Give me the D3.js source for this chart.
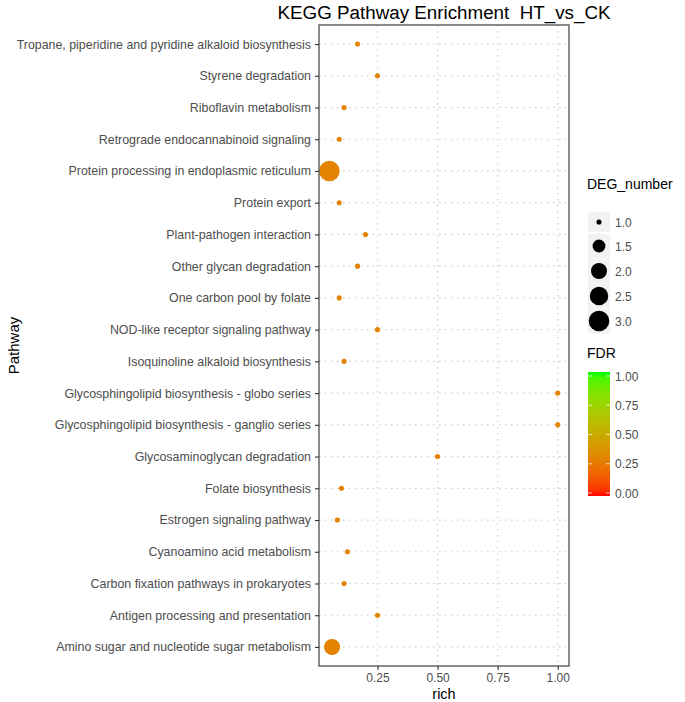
<!DOCTYPE html>
<html><head><meta charset="utf-8">
<script src="https://cdn.jsdelivr.net/npm/d3@7"></script>
<style>body{margin:0;background:#fff}svg{display:block;font-family:"Liberation Sans",Arial,sans-serif}</style>
</head><body><svg id="c" width="685" height="702"></svg>
<script>
const pathways = [
"Tropane, piperidine and pyridine alkaloid biosynthesis",
"Styrene degradation",
"Riboflavin metabolism",
"Retrograde endocannabinoid signaling",
"Protein processing in endoplasmic reticulum",
"Protein export",
"Plant-pathogen interaction",
"Other glycan degradation",
"One carbon pool by folate",
"NOD-like receptor signaling pathway",
"Isoquinoline alkaloid biosynthesis",
"Glycosphingolipid biosynthesis - globo series",
"Glycosphingolipid biosynthesis - ganglio series",
"Glycosaminoglycan degradation",
"Folate biosynthesis",
"Estrogen signaling pathway",
"Cyanoamino acid metabolism",
"Carbon fixation pathways in prokaryotes",
"Antigen processing and presentation",
"Amino sugar and nucleotide sugar metabolism"];
const rich = [0.167,0.25,0.111,0.0909,0.05,0.0909,0.2,0.167,0.0909,0.25,0.111,1.0,1.0,0.5,0.1,0.0833,0.125,0.111,0.25,0.061];
const degNumber = [1,1,1,1,3,1,1,1,1,1,1,1,1,1,1,1,1,1,1,2];
const fdr = [0.3,0.3,0.3,0.3,0.3,0.3,0.3,0.3,0.3,0.3,0.3,0.3,0.3,0.3,0.3,0.3,0.3,0.3,0.3,0.3];
const xTicks = [0.25,0.5,0.75,1.0];
const sizeBreaks = [1.0,1.5,2.0,2.5,3.0];
const fdrBreaks = [0,0.25,0.5,0.75,1.0];
const titleText = "KEGG Pathway Enrichment  HT_vs_CK";

const svg = d3.select("#c");
const P = {l:319, r:569, t:25, b:666};
const x = d3.scaleLinear().domain([0.0067,1.047]).range([P.l,P.r]);
const y = d3.scalePoint().domain(pathways).range([P.t,P.b]).padding(0.6);
const rad = v => { const s = 1 + 5*Math.sqrt((v-1)/2); return 1.55*s + 1; };
const col = d3.scaleLinear().domain([0,1]).range(["#FF0000","#00FF00"]).interpolate(d3.interpolateLab);

// grid
const g = svg.append("g");
g.selectAll(".hg").data(pathways).join("line")
  .attr("x1",P.l).attr("x2",P.r).attr("y1",d=>y(d)).attr("y2",d=>y(d))
  .attr("stroke","#cfcfcf").attr("stroke-width",1.2).attr("stroke-dasharray","1.5,4.5");
g.selectAll(".vg").data(xTicks).join("line")
  .attr("x1",d=>x(d)).attr("x2",d=>x(d)).attr("y1",P.t).attr("y2",P.b)
  .attr("stroke","#cfcfcf").attr("stroke-width",1.2).attr("stroke-dasharray","1.5,4.5");

// points
const data = pathways.map((p,i)=>({p, r:rich[i], n:degNumber[i], f:fdr[i]}));
svg.append("g").selectAll("circle").data(data).join("circle")
  .attr("cx",d=>x(d.r)).attr("cy",d=>y(d.p)).attr("r",d=>rad(d.n))
  .attr("fill",d=>col(d.f));

// border
svg.append("rect").attr("x",P.l).attr("y",P.t).attr("width",P.r-P.l).attr("height",P.b-P.t)
  .attr("fill","none").attr("stroke","#4d4d4d").attr("stroke-width",1.3);

// axes
const yAx = svg.append("g").attr("transform",`translate(${P.l},0)`)
  .call(d3.axisLeft(y).tickSize(4).tickPadding(4));
yAx.select(".domain").remove();
yAx.selectAll("line").attr("stroke","#333").attr("stroke-width",1.1);
yAx.selectAll("text").attr("fill","#4d4d4d").style("font-size","12.4px").style("font-family","Liberation Sans, Arial, sans-serif");

const xAx = svg.append("g").attr("transform",`translate(0,${P.b})`)
  .call(d3.axisBottom(x).tickValues(xTicks).tickFormat(d3.format(".2f")).tickSize(4).tickPadding(3));
xAx.select(".domain").remove();
xAx.selectAll("line").attr("stroke","#333").attr("stroke-width",1.1);
xAx.selectAll("text").attr("fill","#4d4d4d").style("font-size","12px").style("font-family","Liberation Sans, Arial, sans-serif");

// titles
svg.append("text").attr("x",(P.l+P.r)/2).attr("y",19).attr("text-anchor","middle")
  .style("font-size","18.8px").style("white-space","pre").attr("fill","#000").text(titleText);
svg.append("text").attr("x",(P.l+P.r)/2).attr("y",699).attr("text-anchor","middle")
  .style("font-size","14.5px").text("rich");
svg.append("text").attr("transform",`translate(19,${(P.t+P.b)/2}) rotate(-90)`).attr("text-anchor","middle")
  .style("font-size","15px").text("Pathway");

// size legend
const L = svg.append("g");
L.append("text").attr("x",587).attr("y",189).style("font-size","14px").text("DEG_number");
const keyC = [222,246,271,296,321];
const keyH = [20,24,25,25,25];
sizeBreaks.forEach((v,i)=>{
  L.append("rect").attr("x",588).attr("y",keyC[i]-keyH[i]/2).attr("width",22).attr("height",keyH[i]).attr("fill","#f2f2f2");
  L.append("circle").attr("cx",599).attr("cy",keyC[i]).attr("r",rad(v)).attr("fill","#000");
  L.append("text").attr("x",615).attr("y",keyC[i]+4.5).style("font-size","12px").attr("fill","#4d4d4d").text(d3.format(".1f")(v));
});

// colour legend
L.append("text").attr("x",587).attr("y",358).style("font-size","14px").text("FDR");
const cy = d3.scaleLinear().domain([0,1]).range([493,376]);
const defs = svg.append("defs");
const lg = defs.append("linearGradient").attr("id","fg").attr("x1",0).attr("x2",0).attr("y1",1).attr("y2",0);
d3.range(0,1.0001,0.05).forEach(t=>lg.append("stop").attr("offset",t).attr("stop-color",col(t)));
L.append("rect").attr("x",588).attr("y",372).attr("width",22).attr("height",124).attr("fill","url(#fg)");
fdrBreaks.forEach(v=>{
  L.append("line").attr("x1",588).attr("x2",592).attr("y1",cy(v)).attr("y2",cy(v)).attr("stroke","#fff").attr("stroke-opacity",0.7);
  L.append("line").attr("x1",606).attr("x2",610).attr("y1",cy(v)).attr("y2",cy(v)).attr("stroke","#fff").attr("stroke-opacity",0.7);
  L.append("text").attr("x",615).attr("y",cy(v)+4.5).style("font-size","12px").attr("fill","#4d4d4d").text(d3.format(".2f")(v));
});
</script></body></html>
